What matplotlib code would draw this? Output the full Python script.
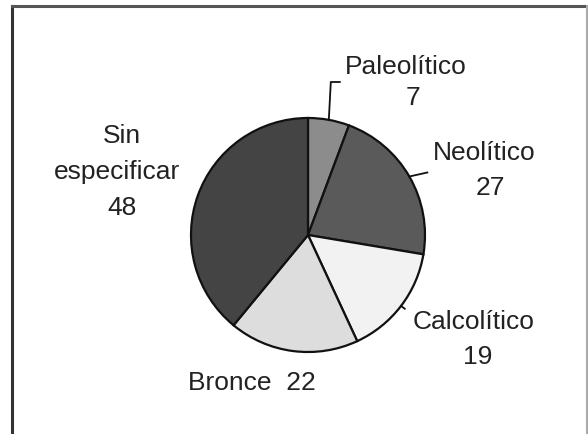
import numpy as np
import matplotlib.pyplot as plt
from matplotlib.lines import Line2D

plt.rcParams['font.family'] = ['Liberation Sans', 'DejaVu Sans']

# datos
periodos = ['Paleolítico', 'Neolítico', 'Calcolítico', 'Bronce', 'Sin especificar']
valores = [7, 27, 19, 22, 48]
colores = ['#8c8c8c', '#5a5a5a', '#f1f2f1', '#dddddd', '#444444']

W, H = 588, 434
fig = plt.figure(figsize=(W / 100, H / 100), dpi=100)
ax = fig.add_axes([0, 0, 1, 1])
ax.set_xlim(0, W)
ax.set_ylim(0, H)
ax.set_aspect('equal')
ax.axis('off')

cx, cy, r = 308, H - 235, 117
wedges, _ = ax.pie(valores, colors=colores, startangle=90, counterclock=False,
                   center=(cx, cy), radius=r, frame=True,
                   wedgeprops=dict(edgecolor='#111111', linewidth=1.6))
ax.set_xlim(0, W)
ax.set_ylim(0, H)
ax.axis('off')

def borde(i, k=1.0):
    w = wedges[i]
    a = np.deg2rad((w.theta1 + w.theta2) / 2)
    return cx + k * r * np.cos(a), cy + k * r * np.sin(a)

txt = dict(fontsize=19, color='#222222', ha='center', va='center')

# Paleolítico
x0, y0 = borde(0)
ax.plot([x0, x0 + 2, x0 + 11], [y0, H - 82, H - 82], color='#111111', lw=1.3)
ax.text(406, H - 67, periodos[0], **txt)
ax.text(413, H - 98, str(valores[0]), **txt)

# Neolítico
x0, y0 = borde(1)
ax.plot([x0, x0 + 18], [y0, y0 + 4], color='#111111', lw=1.3)
ax.text(484, H - 153, periodos[1], **txt)
ax.text(490, H - 188, str(valores[1]), **txt)

# Calcolítico
x0, y0 = borde(2)
x1, y1 = borde(2, 1.04)
ax.plot([x0, x1], [y0, y1], color='#111111', lw=1.3)
ax.text(474, H - 322, periodos[2], **txt)
ax.text(478, H - 357, str(valores[2]), **txt)

# Bronce
ax.text(252, H - 383, periodos[3] + '  ' + str(valores[3]), **txt)

# Sin especificar
ax.text(122, H - 136, 'Sin', **txt)
ax.text(117, H - 172, 'especificar', **txt)
ax.text(122, H - 208, str(valores[4]), **txt)

# marco
fig.add_artist(Line2D([12 / W, 12 / W], [0, 1 - 6 / H], color='#333333', lw=2.2))
fig.add_artist(Line2D([12 / W, 1], [1 - 6 / H, 1 - 6 / H], color='#555555', lw=2.2))
fig.add_artist(Line2D([587 / W, 587 / W], [0, 1 - 6 / H], color='#aaaaaa', lw=1.5))

fig.savefig('out.png', dpi=100, facecolor='white')
